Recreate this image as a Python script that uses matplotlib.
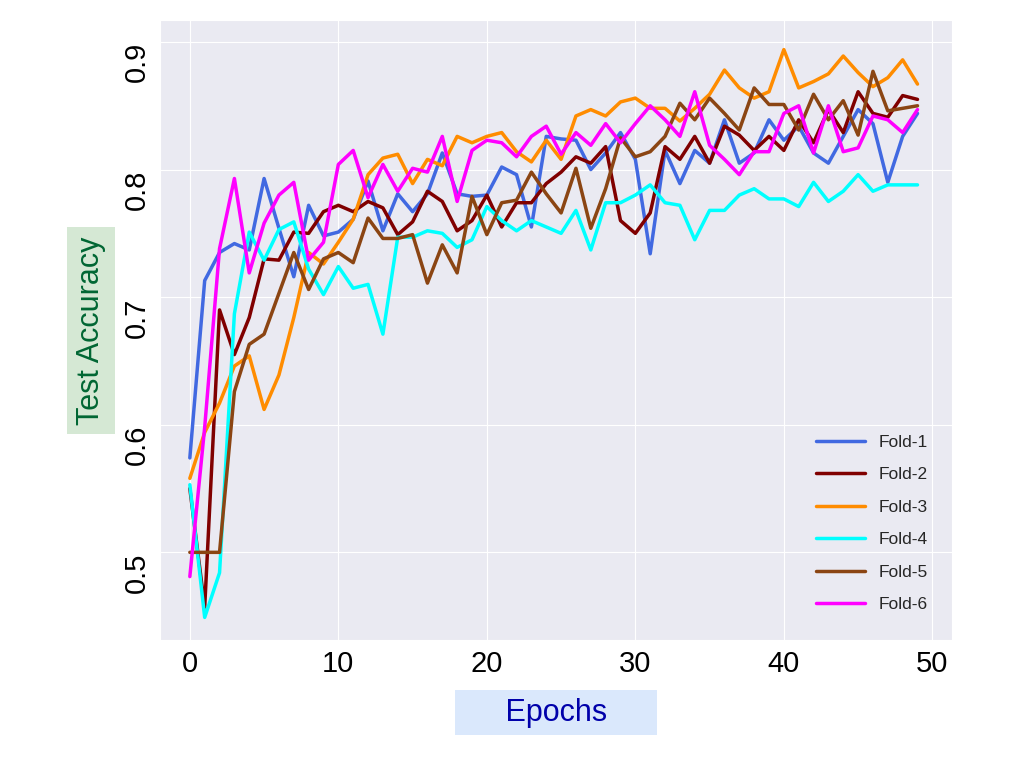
import numpy as np
import matplotlib
matplotlib.use('Agg')
import matplotlib.pyplot as plt
import seaborn as sns

epochs = list(range(50))

fold1 = [0.574, 0.713, 0.735, 0.742, 0.737, 0.793, 0.754, 0.716, 0.772, 0.748,
         0.751, 0.761, 0.791, 0.752, 0.781, 0.767, 0.781, 0.813, 0.781, 0.779,
         0.780, 0.802, 0.796, 0.755, 0.826, 0.824, 0.823, 0.800, 0.813, 0.829,
         0.808, 0.734, 0.815, 0.789, 0.815, 0.805, 0.839, 0.805, 0.813, 0.839,
         0.823, 0.834, 0.813, 0.805, 0.826, 0.847, 0.836, 0.790, 0.826, 0.844]
fold2 = [0.550, 0.457, 0.690, 0.655, 0.684, 0.730, 0.729, 0.751, 0.750, 0.767,
         0.772, 0.767, 0.775, 0.770, 0.749, 0.759, 0.783, 0.775, 0.752, 0.760,
         0.780, 0.755, 0.774, 0.774, 0.789, 0.798, 0.810, 0.805, 0.818, 0.760,
         0.750, 0.766, 0.818, 0.808, 0.826, 0.805, 0.834, 0.827, 0.815, 0.826,
         0.815, 0.839, 0.821, 0.847, 0.829, 0.861, 0.844, 0.841, 0.858, 0.855]
fold3 = [0.558, 0.594, 0.617, 0.646, 0.654, 0.612, 0.639, 0.684, 0.735, 0.726,
         0.743, 0.761, 0.796, 0.809, 0.812, 0.789, 0.808, 0.803, 0.826, 0.821,
         0.826, 0.829, 0.814, 0.806, 0.823, 0.808, 0.842, 0.847, 0.842, 0.853,
         0.856, 0.848, 0.848, 0.838, 0.848, 0.859, 0.878, 0.864, 0.856, 0.861,
         0.894, 0.864, 0.869, 0.875, 0.889, 0.876, 0.865, 0.872, 0.886, 0.867]
fold4 = [0.553, 0.449, 0.484, 0.687, 0.751, 0.729, 0.753, 0.759, 0.722, 0.702,
         0.724, 0.707, 0.710, 0.671, 0.747, 0.747, 0.752, 0.750, 0.739, 0.745,
         0.771, 0.760, 0.752, 0.760, 0.755, 0.750, 0.768, 0.737, 0.774, 0.774,
         0.780, 0.788, 0.774, 0.772, 0.745, 0.768, 0.768, 0.780, 0.785, 0.777,
         0.777, 0.771, 0.790, 0.775, 0.783, 0.796, 0.783, 0.788, 0.788, 0.788]
fold5 = [0.500, 0.500, 0.500, 0.626, 0.663, 0.671, 0.703, 0.735, 0.706, 0.730,
         0.735, 0.727, 0.762, 0.746, 0.746, 0.749, 0.711, 0.741, 0.719, 0.779,
         0.749, 0.774, 0.776, 0.798, 0.781, 0.766, 0.801, 0.754, 0.785, 0.825,
         0.810, 0.814, 0.826, 0.852, 0.839, 0.856, 0.844, 0.831, 0.864, 0.851,
         0.851, 0.831, 0.859, 0.839, 0.854, 0.827, 0.877, 0.846, 0.848, 0.850]
fold6 = [0.481, 0.598, 0.738, 0.793, 0.719, 0.758, 0.780, 0.790, 0.729, 0.743,
         0.804, 0.815, 0.778, 0.804, 0.783, 0.801, 0.798, 0.826, 0.775, 0.815,
         0.823, 0.821, 0.810, 0.826, 0.834, 0.812, 0.829, 0.819, 0.836, 0.821,
         0.836, 0.850, 0.839, 0.826, 0.861, 0.819, 0.808, 0.796, 0.814, 0.814,
         0.844, 0.850, 0.813, 0.850, 0.814, 0.817, 0.842, 0.839, 0.829, 0.847]

folds = [fold1, fold2, fold3, fold4, fold5, fold6]
labels = ['Fold-1', 'Fold-2', 'Fold-3', 'Fold-4', 'Fold-5', 'Fold-6']
colors = ['royalblue', 'maroon', 'darkorange', 'cyan', 'saddlebrown', 'magenta']

sns.set_style('darkgrid')
plt.rcParams['font.family'] = ['Liberation Sans', 'DejaVu Sans']

fig = plt.figure(figsize=(10.2, 7.8), dpi=100)
ax = fig.add_axes([0.157, 0.179, 0.776, 0.795])

for vals, lab, col in zip(folds, labels, colors):
    ax.plot(epochs, vals, color=col, linewidth=2.5, label=lab)

ax.set_xlim(-2, 51.3)
ax.set_ylim(0.431, 0.917)
ax.set_xticks([0, 10, 20, 30, 40, 50])
ax.set_yticks([0.5, 0.6, 0.7, 0.8, 0.9])
ax.tick_params(axis='both', labelsize=21, labelcolor='black')
for t in ax.get_yticklabels():
    t.set_rotation(90)
    t.set_va('top')

ax.set_ylabel('Test Accuracy', fontsize=22, color='#006633', labelpad=12,
              bbox=dict(facecolor='#d5e8d4', edgecolor='none', boxstyle='square,pad=0.3'))
ax.set_xlabel('Epochs', fontsize=22, color='#0000aa', labelpad=14,
              bbox=dict(facecolor='#dae8fc', edgecolor='none', boxstyle='square,pad=0.25'))
ax.xaxis.label.set_text('     Epochs     ')

ax.legend(loc='lower right', fontsize=12.5, frameon=False, labelspacing=1.0,
          handlelength=2.8, bbox_to_anchor=(0.99, 0.02))

fig.savefig('out.png')
